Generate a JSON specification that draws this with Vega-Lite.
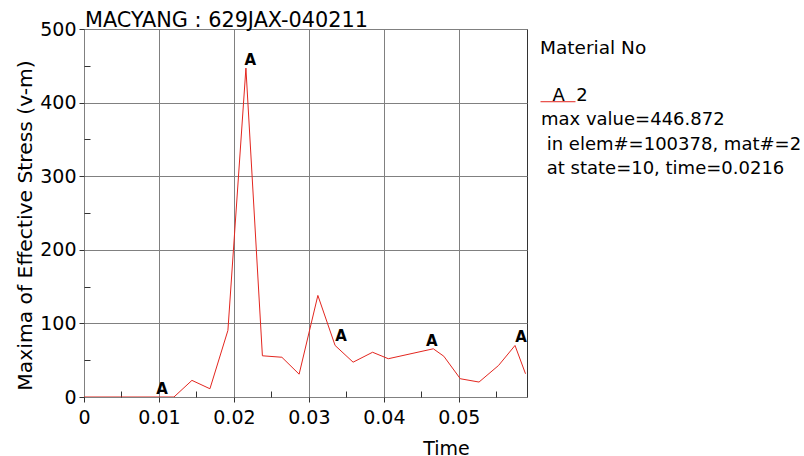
{
  "$schema": "https://vega.github.io/schema/vega-lite/v6.json",
  "width": 443,
  "height": 368,
  "autosize": {"type": "none"},
  "padding": {"left": 84, "top": 29, "right": 277, "bottom": 59},
  "background": "white",
  "config": {
    "font": "DejaVu Sans",
    "view": {"stroke": "#333333", "strokeWidth": 1},
    "axis": {
      "labelFont": "DejaVu Sans",
      "labelFontSize": 19,
      "labelColor": "#000000",
      "titleFont": "DejaVu Sans",
      "titleFontWeight": "normal",
      "titleColor": "#000000",
      "gridColor": "#808080",
      "gridOpacity": 1,
      "gridWidth": 1,
      "domain": false,
      "tickColor": "#333333",
      "tickWidth": 1
    },
    "legend": {
      "orient": "none",
      "legendX": 456,
      "legendY": 10,
      "padding": 0,
      "titleFont": "DejaVu Sans",
      "titleFontSize": 18.5,
      "titleFontWeight": "normal",
      "titleColor": "#000000",
      "titlePadding": 19,
      "labelFont": "DejaVu Sans",
      "labelFontSize": 18,
      "labelColor": "#000000",
      "labelBaseline": "top",
      "labelLimit": 0
    }
  },
  "title": {
    "text": "MACYANG : 629JAX-040211",
    "anchor": "start",
    "frame": "group",
    "font": "DejaVu Sans",
    "fontSize": 20.8,
    "fontWeight": "normal",
    "color": "#000000",
    "baseline": "bottom",
    "offset": 1,
    "dx": 1,
    "dy": 33
  },
  "datasets": {
    "stress": [
      {"time": 0.0, "stress": 0, "material": "2"},
      {"time": 0.0024, "stress": 0, "material": "2"},
      {"time": 0.0048, "stress": 0, "material": "2"},
      {"time": 0.0072, "stress": 0, "material": "2"},
      {"time": 0.0096, "stress": 0, "material": "2"},
      {"time": 0.012, "stress": 0, "material": "2"},
      {"time": 0.0144, "stress": 22.6, "material": "2"},
      {"time": 0.0168, "stress": 11.2, "material": "2"},
      {"time": 0.0192, "stress": 90.5, "material": "2"},
      {"time": 0.0216, "stress": 446.872, "material": "2"},
      {"time": 0.0238, "stress": 56, "material": "2"},
      {"time": 0.0264, "stress": 54, "material": "2"},
      {"time": 0.0287, "stress": 31, "material": "2"},
      {"time": 0.0312, "stress": 138, "material": "2"},
      {"time": 0.0335, "stress": 70, "material": "2"},
      {"time": 0.0359, "stress": 47.3, "material": "2"},
      {"time": 0.0385, "stress": 60.8, "material": "2"},
      {"time": 0.0406, "stress": 52, "material": "2"},
      {"time": 0.0466, "stress": 65.5, "material": "2"},
      {"time": 0.048, "stress": 55.4, "material": "2"},
      {"time": 0.0502, "stress": 24.8, "material": "2"},
      {"time": 0.0527, "stress": 20.3, "material": "2"},
      {"time": 0.0553, "stress": 42.8, "material": "2"},
      {"time": 0.0575, "stress": 70, "material": "2"},
      {"time": 0.0589, "stress": 31.6, "material": "2"}
    ],
    "markers": [
      {"time": 0.0104, "stress": 0, "marker": "A"},
      {"time": 0.0222, "stress": 447, "marker": "A"},
      {"time": 0.0343, "stress": 71.5, "marker": "A"},
      {"time": 0.0464, "stress": 65.7, "marker": "A"},
      {"time": 0.0583, "stress": 70, "marker": "A"}
    ]
  },
  "layer": [
    {
      "data": {"name": "stress"},
      "mark": {"type": "line", "strokeWidth": 1, "clip": true},
      "encoding": {
        "x": {
          "field": "time",
          "type": "quantitative",
          "scale": {"domain": [0, 0.0591], "nice": false, "zero": false},
          "axis": {
            "orient": "bottom",
            "values": [0, 0.01, 0.02, 0.03, 0.04, 0.05],
            "format": ".2~f",
            "grid": true,
            "tickSize": 5,
            "labelPadding": 6,
            "labelFlush": false,
            "title": "Time",
            "titleFontSize": 19,
            "titleX": 362,
            "titleY": 57,
            "titleAlign": "center",
            "titleBaseline": "alphabetic"
          }
        },
        "y": {
          "field": "stress",
          "type": "quantitative",
          "scale": {"domain": [0, 500], "nice": false},
          "axis": {
            "orient": "left",
            "values": [0, 100, 200, 300, 400, 500],
            "grid": true,
            "tickSize": 5,
            "labelPadding": 3,
            "labelFlush": false,
            "title": "Maxima of Effective Stress (v-m)",
            "titleFontSize": 20.3,
            "titleAngle": 270,
            "titleX": -59,
            "titleY": 196,
            "titleAlign": "center",
            "titleBaseline": "middle"
          }
        },
        "color": {
          "field": "material",
          "type": "nominal",
          "scale": {"domain": ["2"], "range": ["#e3261f"]},
          "legend": {
            "title": "Material No",
            "symbolType": "M-1,0.87H1",
            "symbolSize": 1225,
            "symbolStrokeWidth": 1,
            "symbolStrokeColor": "#e3261f",
            "symbolFillColor": "transparent",
            "symbolOffset": 0,
            "labelOffset": -35,
            "clipHeight": 20,
            "labelExpr": "['\u200b\u00a0\u00a0A\u00a0\u00a02', 'max value=446.872', '\u200b\u00a0in elem#=100378, mat#=2', '\u200b\u00a0at state=10, time=0.0216']",
            "encode": {"labels": {"update": {"lineHeight": {"value": 24.5}}}}
          }
        }
      }
    },
    {
      "data": {"name": "markers"},
      "mark": {"type": "text", "baseline": "bottom", "align": "center", "font": "DejaVu Sans", "fontSize": 15, "fontWeight": "bold", "color": "#000000"},
      "encoding": {
        "x": {
          "field": "time",
          "type": "quantitative",
          "axis": {
            "orient": "bottom",
            "values": [0.005, 0.015, 0.025, 0.035, 0.045, 0.055],
            "grid": false,
            "labels": false,
            "tickSize": -6,
            "title": null
          }
        },
        "y": {
          "field": "stress",
          "type": "quantitative",
          "axis": {
            "orient": "left",
            "values": [50, 150, 250, 350, 450],
            "grid": false,
            "labels": false,
            "tickSize": -6,
            "title": null
          }
        },
        "text": {"field": "marker"}
      }
    }
  ],
  "resolve": {"axis": {"x": "independent", "y": "independent"}}
}
